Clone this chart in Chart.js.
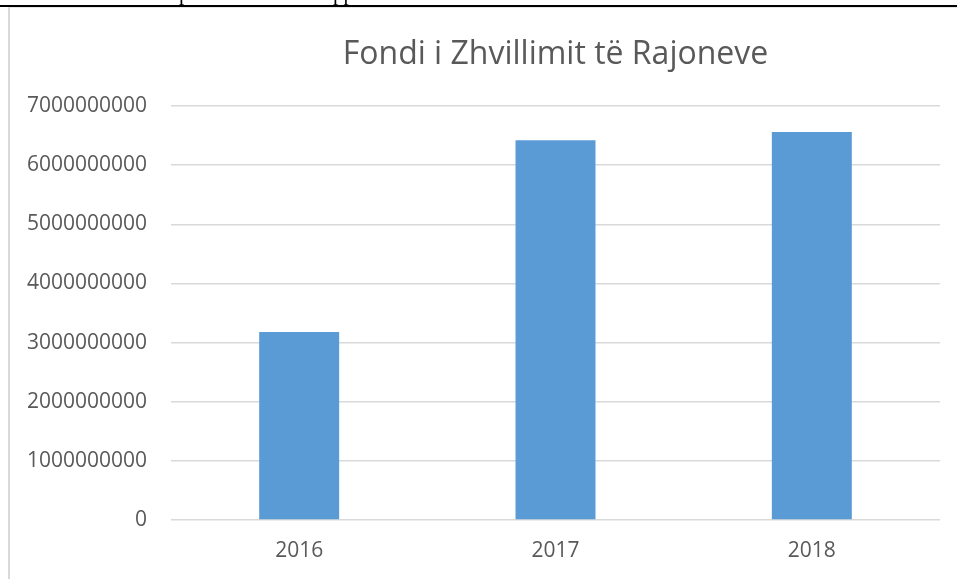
<!DOCTYPE html>
<html lang="sq">
<head>
  <meta charset="UTF-8">
  <title>Fondi i Zhvillimit të Rajoneve</title>
  <script src="https://cdn.jsdelivr.net/npm/chart.js"></script>
  <style>
    html, body {
      margin: 0;
      padding: 0;
      background: #ffffff;
    }
    #wrap {
      position: relative;
      width: 957px;
      height: 579px;
      overflow: hidden;
    }
    #myChart {
      position: absolute;
      left: 0;
      top: 0;
    }
    /* bout de texte du document coupé en haut */
    #cut {
      position: absolute;
      left: 0;
      top: 0;
      width: 957px;
      height: 5px;
      overflow: hidden;
      font-family: "Liberation Serif", serif;
      font-size: 21px;
      line-height: 21px;
      color: #000;
    }
    #cut span {
      position: absolute;
      top: -17px;
    }
    #topline {
      position: absolute;
      left: 0;
      top: 5px;
      width: 957px;
      height: 2px;
      background: #000;
    }
    #frame {
      position: absolute;
      left: 8px;
      top: 7px;
      width: 960px;
      height: 580px;
      border-left: 2px solid #d9d9d9;
      border-top: 1px solid #e6e6e6;
      box-sizing: border-box;
      pointer-events: none;
    }
  </style>
</head>
<body>
  <div id="wrap">
    <canvas id="myChart" width="957" height="579"></canvas>
    <div id="cut"><span style="left:179px">p</span><span style="left:333px">pp</span></div>
    <div id="topline"></div>
    <div id="frame"></div>
  </div>

  <script>
    // Données
    const years = ['2016', '2017', '2018'];
    const fondi = [3180000000, 6420000000, 6560000000];
    const yMax = 7000000000;
    const yStep = 1000000000;

    const grey = '#595959';
    const gridColor = '#d9d9d9';
    const barColor = '#5b9bd5';

    const ctx = document.getElementById('myChart').getContext('2d');

    new Chart(ctx, {
      type: 'bar',
      data: {
        labels: years,
        datasets: [{
          label: 'Fondi i Zhvillimit të Rajoneve',
          data: fondi,
          backgroundColor: barColor,
          borderWidth: 0,
          barPercentage: 0.312,
          categoryPercentage: 1
        }]
      },
      options: {
        responsive: false,
        animation: false,
        layout: {
          padding: { left: 10, right: 17, top: 10, bottom: 15 }
        },
        plugins: {
          legend: { display: false },
          tooltip: { enabled: false },
          title: {
            display: true,
            fullSize: false,
            text: 'Fondi i Zhvillimit të Rajoneve',
            color: grey,
            font: { family: 'Open Sans', size: 32, weight: 'normal' },
            padding: { top: 26, bottom: 31.6 }
          }
        },
        scales: {
          x: {
            afterFit: (axis) => { axis.height = 44; },
            grid: { display: false, drawTicks: false },
            border: { display: false },
            ticks: {
              color: grey,
              padding: 18,
              font: { family: 'Open Sans', size: 21 }
            }
          },
          y: {
            min: 0,
            max: yMax,
            afterFit: (axis) => { axis.width = 161; },
            grid: { color: gridColor, lineWidth: 1.5, drawTicks: false },
            border: { display: false },
            ticks: {
              stepSize: yStep,
              color: grey,
              padding: 24,
              font: { family: 'Open Sans', size: 21 },
              callback: (v) => String(v)
            }
          }
        }
      }
    });
  </script>
</body>
</html>
